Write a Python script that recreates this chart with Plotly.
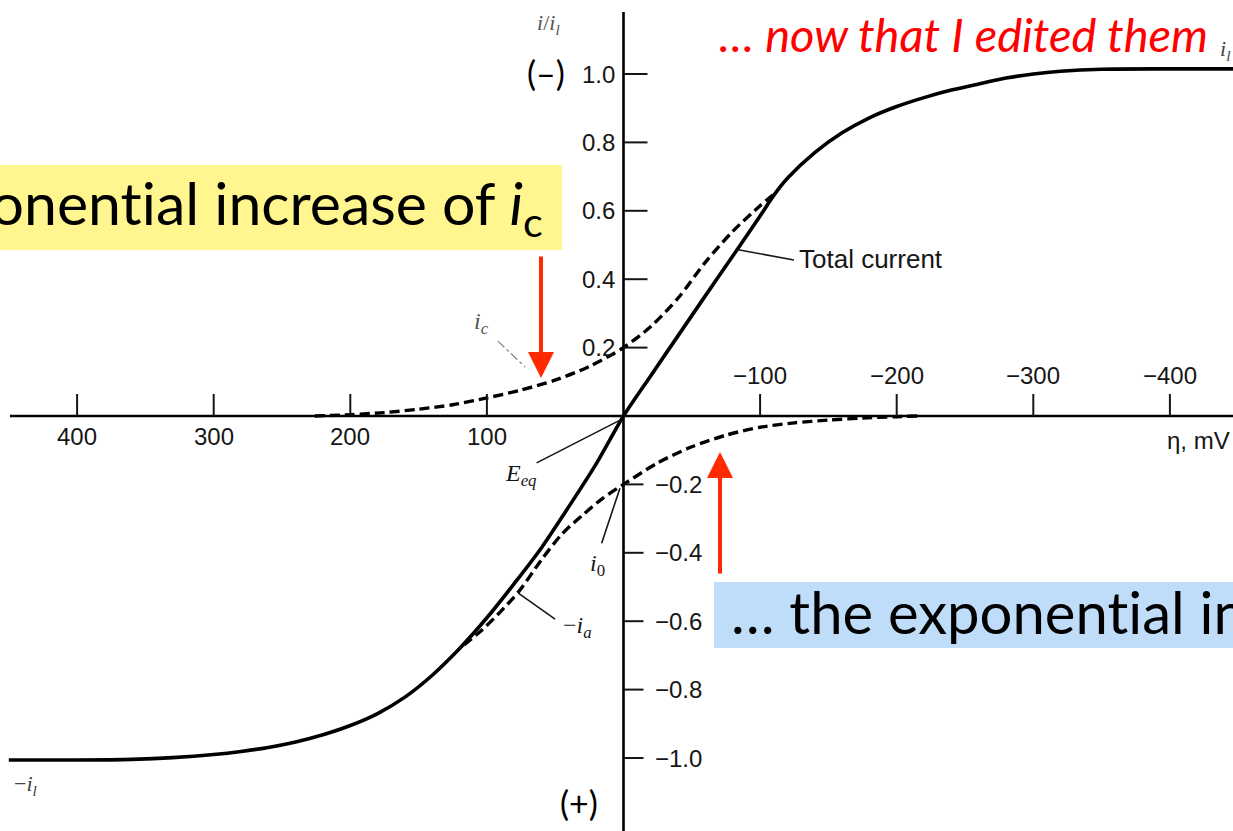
import plotly.graph_objects as go

W, H = 1233, 831

# Overpotential (mV) and normalised current i/i_l for the three curves
eta_total = [450, 400, 360, 330, 300, 280, 260, 240, 220, 200, 180, 160, 140, 120, 100, 80, 60, 40, 20, 0,
             -20, -40, -60, -80, -100, -110, -120, -140, -160, -180, -200, -220, -240, -260, -280, -300,
             -320, -350, -400, -450]
i_total = [-1.006, -1.006, -1.004, -0.999, -0.99, -0.981, -0.969, -0.953, -0.932, -0.905, -0.87, -0.822,
           -0.758, -0.68, -0.59, -0.49, -0.385, -0.265, -0.14, 0.0,
           0.118, 0.235, 0.352, 0.468, 0.585, 0.645, 0.695, 0.77, 0.828, 0.872, 0.905, 0.931, 0.953, 0.971,
           0.988, 1.0, 1.008, 1.014, 1.015, 1.015]

eta_ic = [226, 200, 175, 150, 125, 100, 75, 50, 25, 0, -20, -40, -60, -80, -100, -112]
i_c = [0.0, 0.004, 0.01, 0.02, 0.033, 0.053, 0.076, 0.105, 0.145, 0.2, 0.262, 0.345, 0.45, 0.54, 0.615, 0.655]

eta_ia = [-215, -200, -175, -150, -125, -100, -75, -50, -25, 0, 15, 30, 45, 60, 76, 90, 104, 120]
i_a_neg = [0.0, -0.002, -0.006, -0.012, -0.02, -0.033, -0.056, -0.09, -0.137, -0.2, -0.24, -0.29, -0.345,
           -0.42, -0.51, -0.572, -0.627, -0.68]

x_ticks_low = [400, 300, 200, 100]
x_ticks_high = [-100, -200, -300, -400]
y_ticks_pos = [1.0, 0.8, 0.6, 0.4, 0.2]
y_ticks_neg = [-0.2, -0.4, -0.6, -0.8, -1.0]

# frame geometry: where the origin sits and how many pixels per unit
ORIGIN_X, ORIGIN_Y = 623.5, 416
PX_PER_MV, PX_PER_UNIT = 1.366, 342
x_range = [ORIGIN_X / PX_PER_MV, -(W - ORIGIN_X) / PX_PER_MV]
y_range = [-(H - ORIGIN_Y) / PX_PER_UNIT, ORIGIN_Y / PX_PER_UNIT]


def px(x):
    return x / W


def py(y):
    return 1 - y / H


SANS = "Liberation Sans, Arial, sans-serif"
SERIF = "Liberation Serif, Times New Roman, serif"
CAL = "Lato, Carlito, Calibri, sans-serif"
INK = "#161616"
ARROW_RED = "#FF2A00"
ZWNJ = "\u200c"  # keeps "t" and "i" as separate glyphs


def tick_font():
    return dict(family=SANS, size=24, color=INK)


fig = go.Figure()
fig.add_trace(go.Scatter(x=eta_total, y=i_total, mode="lines",
                         line=dict(color="black", width=3.6, shape="spline", smoothing=0.8)))
fig.add_trace(go.Scatter(x=eta_ic, y=i_c, mode="lines",
                         line=dict(color="black", width=3.4, dash="10px,5px", shape="spline", smoothing=0.8)))
fig.add_trace(go.Scatter(x=eta_ia, y=i_a_neg, mode="lines",
                         line=dict(color="black", width=3.4, dash="10px,5px", shape="spline", smoothing=0.8)))

shapes = []
# highlight boxes behind the callout text
shapes.append(dict(type="rect", xref="paper", yref="paper", x0=-0.01, x1=px(562), y0=py(250), y1=py(165),
                   fillcolor="#FFF68F", line=dict(width=0), layer="below"))
shapes.append(dict(type="rect", xref="paper", yref="paper", x0=px(714), x1=1.01, y0=py(648), y1=py(582),
                   fillcolor="#BFDDF8", line=dict(width=0), layer="below"))
# axes crossing at the origin
shapes.append(dict(type="line", xref="paper", yref="y", x0=px(10), x1=1.0, y0=0, y1=0,
                   line=dict(color="black", width=2.6)))
shapes.append(dict(type="line", xref="x", yref="paper", x0=0, x1=0, y0=0, y1=py(12),
                   line=dict(color="black", width=2.6)))
# x ticks point upward from the axis
for t in x_ticks_low + x_ticks_high:
    shapes.append(dict(type="line", xref="x", yref="y", x0=t, x1=t, ysizemode="pixel", yanchor=0,
                       y0=0, y1=22, line=dict(color=INK, width=2)))
# y ticks point to the right of the axis
for t in y_ticks_pos:
    shapes.append(dict(type="line", xref="x", yref="y", xsizemode="pixel", xanchor=0, x0=0, x1=24,
                       y0=t, y1=t, line=dict(color=INK, width=2)))
for t in y_ticks_neg:
    shapes.append(dict(type="line", xref="x", yref="y", xsizemode="pixel", xanchor=0, x0=0, x1=20,
                       y0=t, y1=t, line=dict(color=INK, width=2)))
# leader lines from the curve labels
leaders = [
    ((92, 0.219), (72, 0.143), "#8a8a8a", "dashdot", 1.3),
    ((63.6, -0.137), (2.5, -0.012), INK, "solid", 1.6),
    ((16, -0.372), (2.6, -0.211), INK, "solid", 1.6),
    ((50.1, -0.594), (77, -0.518), INK, "solid", 1.6),
    ((-124.8, 0.456), (-83, 0.487), INK, "solid", 1.6),
]
for (xa, ya), (xb, yb), c, d, w in leaders:
    shapes.append(dict(type="line", xref="x", yref="y", x0=xa, y0=ya, x1=xb, y1=yb,
                       line=dict(color=c, width=w, dash=d)))

ann = []
for t in x_ticks_low:
    ann.append(dict(x=t, y=0, xref="x", yref="y", text=f"{t}", showarrow=False, yshift=-20,
                    xanchor="center", yanchor="middle", font=tick_font()))
for t in x_ticks_high:
    ann.append(dict(x=t, y=0, xref="x", yref="y", text=f"\u2212{abs(t)}", showarrow=False, yshift=41,
                    xanchor="center", yanchor="middle", font=tick_font()))
for t in y_ticks_pos:
    ann.append(dict(x=0, y=t, xref="x", yref="y", text=f"{t:.1f}", showarrow=False, xshift=-7,
                    xanchor="right", yanchor="middle", font=tick_font()))
for t in y_ticks_neg:
    ann.append(dict(x=0, y=t, xref="x", yref="y", text=f"\u2212{abs(t):.1f}", showarrow=False, xshift=29,
                    xanchor="left", yanchor="middle", font=tick_font()))

# curve labels
ann += [
    dict(x=104.3, y=0.272, text="<i>i</i><sub><i>c</i></sub>", font=dict(family=SERIF, size=24, color="#555")),
    dict(x=75, y=-0.1725, text="<i>E</i><sub><i>eq</i></sub>", font=dict(family=SERIF, size=24, color=INK)),
    dict(x=19.4, y=-0.436, text="<i>i</i><sub>0</sub>", font=dict(family=SERIF, size=24, color=INK)),
    dict(x=34, y=-0.617, text="\u2212<i>i</i><sub><i>a</i></sub>", font=dict(family=SERIF, size=24, color=INK)),
]
for a in ann[-4:]:
    a.update(xref="x", yref="y", showarrow=False, xanchor="center", yanchor="middle")
ann.append(dict(x=-126.9, y=0.459, xref="x", yref="y", text="Total current", showarrow=False,
                xanchor="left", yanchor="middle", font=dict(family=SANS, size=26, color=INK)))

# axis titles and limiting-current marks
ann += [
    dict(x=px(548), y=py(24), text="<i>i</i>/<i>i</i><sub><i>l</i></sub>", font=dict(family=SERIF, size=22, color="#555"),
         xanchor="center"),
    dict(x=px(1165), y=py(440), text="\u03b7, mV", font=dict(family=SANS, size=24, color=INK), xanchor="left"),
    dict(x=px(1218), y=py(50), text="<i>i</i><sub><i>l</i></sub>", font=dict(family=SERIF, size=22, color="#444"),
         xanchor="left"),
    dict(x=px(12), y=py(785), text="\u2212<i>i</i><sub><i>l</i></sub>", font=dict(family=SERIF, size=22, color="#444"),
         xanchor="left"),
    dict(x=px(546), y=py(72), text="(\u2013)", font=dict(family=CAL, size=34, color="black"), xanchor="center"),
    dict(x=px(579), y=py(802), text="(+)", font=dict(family=CAL, size=34, color="black"), xanchor="center"),
]
for a in ann[-6:]:
    a.update(xref="paper", yref="paper", showarrow=False, yanchor="middle")

# callout texts
ann += [
    dict(x=px(545), y=py(206), text=f"Exponent{ZWNJ}ial increase of <i>i</i><sub>c</sub>", xanchor="right",
         font=dict(family=CAL, size=59, color="black")),
    dict(x=px(729), y=py(616), text=f"\u2026 the exponent{ZWNJ}ial increase of <i>i</i><sub>a</sub>", xanchor="left",
         font=dict(family=CAL, size=58, color="black")),
    dict(x=px(717), y=py(34), text="<i>\u2026 now that I edited them</i>", xanchor="left",
         font=dict(family=CAL, size=47, color="#FF0000")),
]
for a in ann[-3:]:
    a.update(xref="paper", yref="paper", showarrow=False, yanchor="middle")

# red pointer arrows
ann += [
    dict(x=px(541), y=py(378), xref="paper", yref="paper", text="", showarrow=True, ax=0, ay=-123,
         arrowhead=2, arrowsize=1.3, arrowwidth=4, arrowcolor=ARROW_RED),
    dict(x=px(720), y=py(452), xref="paper", yref="paper", text="", showarrow=True, ax=0, ay=123,
         arrowhead=2, arrowsize=1.3, arrowwidth=4, arrowcolor=ARROW_RED),
]

fig.update_layout(
    width=W, height=H, margin=dict(l=0, r=0, t=0, b=0),
    paper_bgcolor="white", plot_bgcolor="white", showlegend=False,
    font=dict(family=SANS, size=24, color=INK),
    xaxis=dict(range=x_range, visible=False, fixedrange=True),
    yaxis=dict(range=y_range, visible=False, fixedrange=True),
    shapes=shapes, annotations=ann,
)

fig.write_html("out.html")
